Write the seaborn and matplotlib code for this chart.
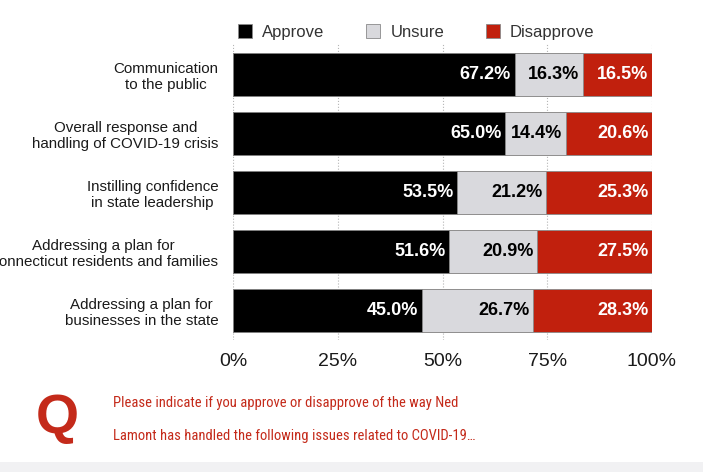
import matplotlib
matplotlib.use("Agg")
import matplotlib.pyplot as plt
import numpy as np
import pandas as pd
import seaborn as sns
from matplotlib import font_manager
from matplotlib.patches import Patch, Rectangle

# ----------------------
# Data
# ----------------------
categories = [
    "Communication\nto the public",
    "Overall response and\nhandling of COVID-19 crisis",
    "Instilling confidence\nin state leadership",
    "Addressing a plan for\nConnecticut residents and families",
    "Addressing a plan for\nbusinesses in the state",
]
approve = [67.2, 65.0, 53.5, 51.6, 45.0]
unsure = [16.3, 14.4, 21.2, 20.9, 26.7]
disapprove = [16.5, 20.6, 25.3, 27.5, 28.3]
series = ["Approve", "Unsure", "Disapprove"]
x_ticks = [0, 25, 50, 75, 100]
x_tick_labels = ["0%", "25%", "50%", "75%", "100%"]
question_lines = [
    "Please indicate if you approve or disapprove of the way Ned",
    "Lamont has handled the following issues related to COVID-19\u2026",
]

colors = {"Approve": "#000000", "Unsure": "#d9d9dd", "Disapprove": "#c1200d"}
label_colors = {"Approve": "white", "Unsure": "black", "Disapprove": "white"}
q_red = "#c42a1a"

sns.set_theme(style="white")
plt.rcParams["font.family"] = ["Liberation Sans", "DejaVu Sans"]

df = pd.DataFrame(
    {
        "category": categories,
        "approve": approve,
        "unsure": unsure,
        "disapprove": disapprove,
    }
)
df["unsure_end"] = df["approve"] + df["unsure"]
df["total"] = df["unsure_end"] + df["disapprove"]

fig = plt.figure(figsize=(7.03, 4.72), dpi=100)
ax = fig.add_axes([233 / 703, 1 - 340 / 472, 419 / 703, 297 / 472])

# stacked bars: draw cumulative totals back to front
bar_kw = dict(orient="h", width=0.73, saturation=1, edgecolor="#8a8a8a",
              linewidth=0.6, ax=ax)
sns.barplot(data=df, x="total", y="category", color=colors["Disapprove"], **bar_kw)
sns.barplot(data=df, x="unsure_end", y="category", color=colors["Unsure"], **bar_kw)
sns.barplot(data=df, x="approve", y="category", color=colors["Approve"], **bar_kw)

# value labels, right aligned at the end of each segment
ends = {"Approve": "approve", "Unsure": "unsure_end", "Disapprove": "total"}
vals = {"Approve": "approve", "Unsure": "unsure", "Disapprove": "disapprove"}
for i, row in df.iterrows():
    for s in series:
        ax.annotate(
            f"{row[vals[s]]:.1f}%",
            xy=(row[ends[s]], i),
            xytext=(-2.5, 0),
            textcoords="offset points",
            ha="right",
            va="center",
            fontsize=13,
            fontweight="bold",
            color=label_colors[s],
        )

ax.set_xlim(0, 100)
ax.set_ylim(4.5, -0.53)
ax.set_axisbelow(True)
ax.xaxis.grid(True, linestyle=":", color="#b5b5b5", linewidth=0.8)
ax.yaxis.grid(False)
for sp in ax.spines.values():
    sp.set_visible(False)

ax.set_xticks(x_ticks)
ax.set_xticklabels(x_tick_labels, fontsize=14, color="#1a1a1a")
ax.set_yticks(range(len(categories)))
ax.set_yticklabels(categories, fontsize=10.9, color="#1a1a1a",
                   multialignment="center", linespacing=1.2)
ax.tick_params(axis="x", length=0, pad=9)
ax.tick_params(axis="y", length=0, pad=10.5)
ax.set_xlabel("")
ax.set_ylabel("")

# legend above the bars
handles = [Patch(facecolor=colors[s], edgecolor="#8a8a8a", linewidth=0.6) for s in series]
fig.legend(
    handles,
    series,
    loc="center left",
    bbox_to_anchor=(238 / 703, 1 - 32 / 472),
    ncol=3,
    frameon=False,
    fontsize=12,
    handlelength=0.85,
    handleheight=0.85,
    handletextpad=0.6,
    columnspacing=2.5,
    borderaxespad=0,
    borderpad=0,
    labelcolor="#333333",
)

# question footer
fig.text(36 / 703, 1 - 419 / 472, "Q", fontsize=40, fontweight="bold",
         color=q_red, ha="left", va="center")

# prefer a condensed face for the question text if one is installed
names = {f.name for f in font_manager.fontManager.ttflist}
q_font = "Liberation Sans"
for cand in ["Roboto Condensed", "Open Sans Condensed", "Liberation Sans Narrow",
             "Noto Sans Condensed", "DejaVu Sans Condensed"]:
    if cand in names:
        q_font = cand
        break
texts = []
for line, y in zip(question_lines, [403, 436]):
    texts.append(fig.text(113 / 703, 1 - y / 472, line, fontsize=14,
                          family=[q_font, "DejaVu Sans"], color=q_red,
                          ha="left", va="center"))
fig.canvas.draw()
renderer = fig.canvas.get_renderer()
w = texts[1].get_window_extent(renderer).width
for t in texts:
    t.set_fontsize(14 * 362 / w)

fig.patches.append(Rectangle((0, 0), 1, 10 / 472, transform=fig.transFigure,
                             facecolor="#f1f1f3", edgecolor="none"))

fig.savefig("out.png", dpi=100)
